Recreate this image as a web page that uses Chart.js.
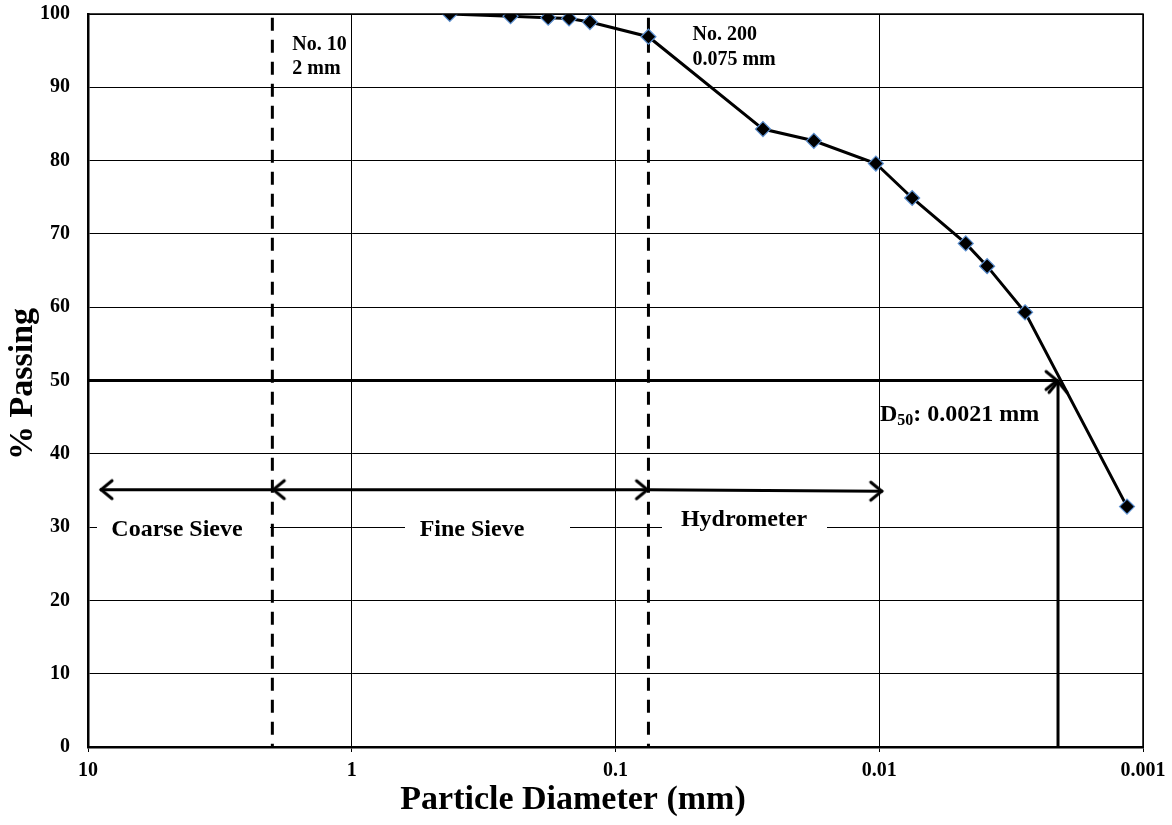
<!DOCTYPE html>
<html>
<head>
<meta charset="utf-8">
<script src="https://cdn.jsdelivr.net/npm/chart.js@4.4.1/dist/chart.umd.min.js"></script>
<style>
  body { margin: 0; background: #fff; }
  canvas { display: block; }
</style>
</head>
<body>
<canvas id="gradation" width="1172" height="825"></canvas>
<script>
// grain size distribution: diameter (mm) vs % passing
const diameters = [0.425, 0.25, 0.18, 0.15, 0.125, 0.075, 0.0276, 0.0177, 0.0103, 0.0075, 0.0047, 0.0039, 0.0028, 0.00115];
const passing   = [100, 99.7, 99.5, 99.4, 98.9, 96.9, 84.3, 82.7, 79.6, 74.9, 68.7, 65.6, 59.3, 32.8];

const xTicks = [10, 1, 0.1, 0.01, 0.001];

// reference lines
const sieveNo10 = 2;      // mm
const sieveNo200 = 0.075; // mm
const d50 = 0.0021;       // mm
const d50Passing = 50;

// range arrows (coarse sieve / fine sieve / hydrometer)
const rangeX = [9, 2, 0.075, 0.0097];
const rangeY = [35.1, 35.1, 35.1, 34.9];

const SERIF = "'Liberation Serif', 'Times New Roman', serif";

// open arrowhead used as a point style, tip at image centre, pointing right
function makeArrow() {
  const c = document.createElement('canvas');
  c.width = 30; c.height = 24;
  const g = c.getContext('2d');
  g.strokeStyle = '#000';
  g.lineWidth = 3;
  g.lineCap = 'round';
  g.beginPath();
  g.moveTo(3, 3);
  g.lineTo(14, 12);
  g.lineTo(3, 21);
  g.stroke();
  return c;
}
const arrow = makeArrow();

const curve = diameters.map((d, i) => ({ x: d, y: passing[i] }));

const labelsPlugin = {
  id: 'labelsPlugin',
  beforeDatasetsDraw(chart) {
    const { ctx } = chart;
    const boxes = [
      { text: 'Coarse Sieve', cx: 177, cy: 530, left: 97, right: 270, top: 517, bottom: 541 },
      { text: 'Fine Sieve', cx: 472, cy: 530, left: 405, right: 570, top: 517, bottom: 541 },
      { text: 'Hydrometer', cx: 744, cy: 520, left: 662, right: 827, top: 506, bottom: 532 }
    ];
    ctx.save();
    ctx.font = 'bold 24px ' + SERIF;
    ctx.textAlign = 'center';
    ctx.textBaseline = 'middle';
    boxes.forEach(b => {
      ctx.fillStyle = '#fff';
      ctx.fillRect(b.left, b.top, b.right - b.left, b.bottom - b.top);
      ctx.fillStyle = '#000';
      ctx.fillText(b.text, b.cx, b.cy);
    });
    ctx.restore();
  },
  afterDatasetsDraw(chart) {
    const { ctx, scales: { x } } = chart;
    ctx.save();
    ctx.fillStyle = '#000';
    ctx.textBaseline = 'middle';
    ctx.textAlign = 'left';
    ctx.font = 'bold 20px ' + SERIF;
    const x10 = x.getPixelForValue(sieveNo10) + 20;
    ctx.fillText('No. 10', x10, 45);
    ctx.fillText('2 mm', x10, 69);
    const x200 = x.getPixelForValue(sieveNo200) + 44;
    ctx.fillText('No. 200', x200, 35);
    ctx.fillText('0.075 mm', x200, 60);

    // D50 label
    let tx = 880;
    const base = 421;
    ctx.textBaseline = 'alphabetic';
    ctx.font = 'bold 24px ' + SERIF;
    ctx.fillText('D', tx, base);
    tx += ctx.measureText('D').width;
    ctx.font = 'bold 16px ' + SERIF;
    ctx.fillText('50', tx, base + 4);
    tx += ctx.measureText('50').width;
    ctx.font = 'bold 24px ' + SERIF;
    ctx.fillText(': 0.0021 mm', tx, base);
    ctx.restore();
  },
  afterDraw(chart) {
    const { ctx, chartArea: a } = chart;
    ctx.save();
    ctx.strokeStyle = '#000';
    ctx.lineWidth = 1.5;
    ctx.beginPath();
    ctx.moveTo(a.left, a.top);
    ctx.lineTo(a.right, a.top);
    ctx.lineTo(a.right, a.bottom);
    ctx.stroke();

    ctx.fillStyle = '#000';
    ctx.textAlign = 'center';
    ctx.textBaseline = 'middle';
    ctx.font = 'bold 34px ' + SERIF;
    ctx.fillText('Particle Diameter (mm)', 573, 800);
    ctx.translate(23, 384);
    ctx.rotate(-Math.PI / 2);
    ctx.font = 'bold 34px ' + SERIF;
    ctx.fillText('% Passing', 0, 0);
    ctx.restore();
  }
};

new Chart(document.getElementById('gradation'), {
  type: 'scatter',
  data: {
    datasets: [
      {
        label: '% Passing',
        data: curve,
        showLine: true,
        borderColor: '#000',
        borderWidth: 3,
        pointStyle: 'rectRot',
        pointRadius: 7.5,
        pointBackgroundColor: '#000',
        pointBorderColor: '#5b8fd0',
        pointBorderWidth: 1.2
      },
      {
        label: 'D50 horizontal',
        data: [{ x: 10, y: d50Passing }, { x: d50, y: d50Passing }],
        showLine: true,
        borderColor: '#000',
        borderWidth: 3,
        pointStyle: arrow,
        pointRadius: [0, 5],
        pointRotation: 0
      },
      {
        label: 'D50 vertical',
        data: [{ x: d50, y: 0 }, { x: d50, y: d50Passing }],
        showLine: true,
        borderColor: '#000',
        borderWidth: 3,
        pointStyle: arrow,
        pointRadius: [0, 5],
        pointRotation: -90
      },
      {
        label: 'ranges',
        data: rangeX.map((v, i) => ({ x: v, y: rangeY[i] })),
        showLine: true,
        borderColor: '#000',
        borderWidth: 3,
        pointStyle: arrow,
        pointRadius: 5,
        pointRotation: [180, 180, 0, 0]
      },
      {
        label: 'No. 10',
        data: [{ x: sieveNo10, y: 99.5 }, { x: sieveNo10, y: 0 }],
        showLine: true,
        borderColor: '#000',
        borderWidth: 3,
        borderDash: [13, 9],
        pointRadius: 0
      },
      {
        label: 'No. 200',
        data: [{ x: sieveNo200, y: 99.5 }, { x: sieveNo200, y: 0 }],
        showLine: true,
        borderColor: '#000',
        borderWidth: 3,
        borderDash: [13, 9],
        pointRadius: 0
      }
    ]
  },
  options: {
    responsive: false,
    animation: false,
    devicePixelRatio: 1,
    layout: { padding: { top: 14, right: 29, left: 0, bottom: 0 } },
    plugins: {
      legend: { display: false },
      tooltip: { enabled: false }
    },
    scales: {
      x: {
        type: 'logarithmic',
        reverse: true,
        min: 0.001,
        max: 10,
        afterBuildTicks: s => { s.ticks = xTicks.map(v => ({ value: v })); },
        afterFit: s => { s.height = 78; s.paddingLeft = 0; s.paddingRight = 0; },
        ticks: {
          autoSkip: false,
          maxRotation: 0,
          padding: 7,
          color: '#000',
          font: { family: SERIF, weight: 'bold', size: 20 },
          callback: v => String(v)
        },
        grid: { color: '#000', lineWidth: 1, tickLength: 5 },
        border: { color: '#000', width: 2.5 }
      },
      y: {
        min: 0,
        max: 100,
        afterFit: s => { s.width = 88; s.paddingTop = 0; s.paddingBottom = 0; },
        ticks: {
          stepSize: 10,
          padding: 18,
          color: '#000',
          font: { family: SERIF, weight: 'bold', size: 20 }
        },
        grid: { color: '#000', lineWidth: 1, drawTicks: false },
        border: { color: '#000', width: 2.5 }
      }
    }
  },
  plugins: [labelsPlugin]
});
</script>
</body>
</html>
